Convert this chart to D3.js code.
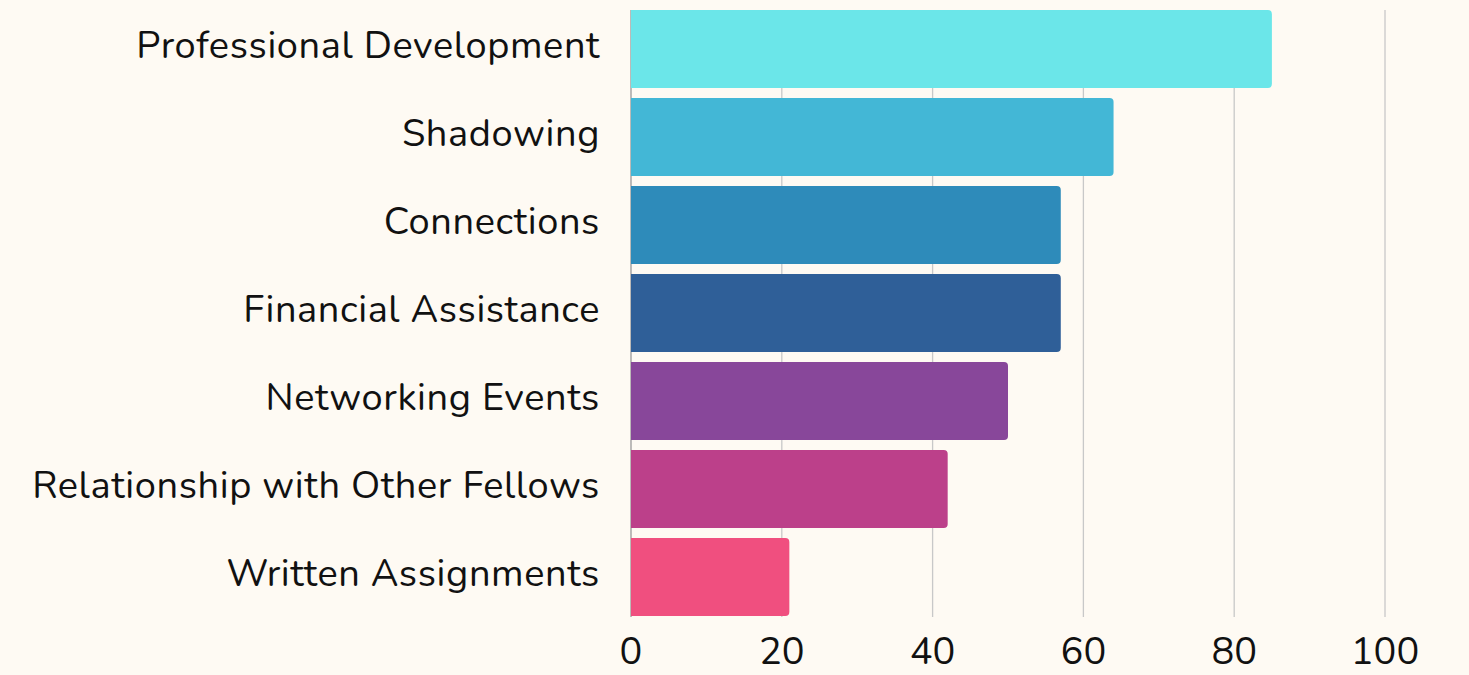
<!DOCTYPE html>
<html>
<head>
<meta charset="utf-8">
<script src="https://cdn.jsdelivr.net/npm/d3@7"></script>
<style>
  body { margin: 0; background: #fefaf3; }
  svg { display: block; font-family: Nunito, Lato, "Noto Sans", sans-serif; }
</style>
</head>
<body>
<script>
var categories = ["Professional Development", "Shadowing", "Connections", "Financial Assistance",
  "Networking Events", "Relationship with Other Fellows", "Written Assignments"];
var values = [85, 64, 57, 57, 50, 42, 21];
var colors = ["#6be6e9", "#43b7d6", "#2e8bba", "#2f5f98", "#88479a", "#bc408a", "#f04f7f"];
var ticks = [0, 20, 40, 60, 80, 100];

var width = 1469, height = 675;
var margin = {top: 5, right: 84, bottom: 58, left: 631};

var svg = d3.select("body").append("svg")
  .attr("width", width)
  .attr("height", height);

var x = d3.scaleLinear().domain([0, 100]).range([margin.left, width - margin.right]);
var y = d3.scaleBand().domain(categories)
  .range([margin.top, height - margin.bottom + 4])
  .paddingInner(0.1136).paddingOuter(0.0568);

// gridlines
svg.append("g")
  .selectAll("line")
  .data(ticks)
  .enter()
  .append("line")
  .attr("x1", function(d) { return x(d); })
  .attr("x2", function(d) { return x(d); })
  .attr("y1", 10)
  .attr("y2", 617)
  .attr("stroke", function(d) { return d == 0 ? "#999" : "#c8c8c8"; })
  .attr("stroke-width", 1.3);

// bars, rounded on the right end only
function barPath(d, i) {
  var x0 = x(0), x1 = x(d), y0 = y(categories[i]), h = y.bandwidth(), r = 4;
  return "M" + x0 + "," + y0 +
    "H" + (x1 - r) + "A" + r + "," + r + " 0 0 1 " + x1 + "," + (y0 + r) +
    "V" + (y0 + h - r) + "A" + r + "," + r + " 0 0 1 " + (x1 - r) + "," + (y0 + h) +
    "H" + x0 + "Z";
}

svg.append("g")
  .selectAll("path")
  .data(values)
  .enter()
  .append("path")
  .attr("d", barPath)
  .attr("fill", function(d, i) { return colors[i]; });

// category labels
svg.append("g")
  .selectAll("text")
  .data(categories)
  .enter()
  .append("text")
  .attr("x", 600)
  .attr("y", function(d) { return y(d) + y.bandwidth() / 2 + 9; })
  .attr("text-anchor", "end")
  .attr("font-size", 38)
  .attr("letter-spacing", "0.6px")
  .attr("fill", "#111")
  .text(function(d) { return d; });

// x tick labels
svg.append("g")
  .selectAll("text")
  .data(ticks)
  .enter()
  .append("text")
  .attr("x", function(d) { return x(d); })
  .attr("y", 664)
  .attr("text-anchor", "middle")
  .attr("font-size", 38)
  .attr("fill", "#111")
  .text(function(d) { return d; });
</script>
</body>
</html>
